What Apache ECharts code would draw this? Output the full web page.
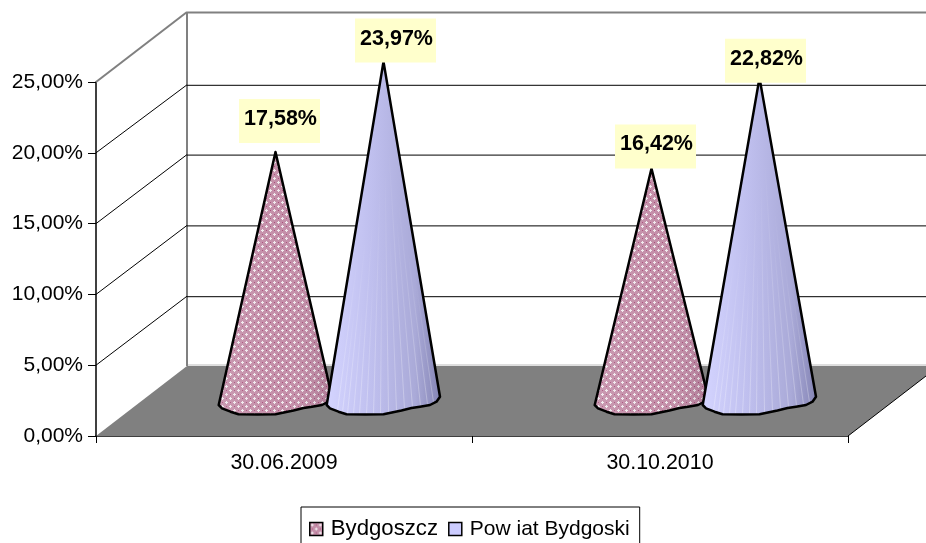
<!DOCTYPE html>
<html>
<head>
<meta charset="utf-8">
<style>html,body{margin:0;padding:0;background:#fff;overflow:hidden}#c{width:926px;height:543px}</style>
<script src="https://cdn.jsdelivr.net/npm/echarts@6/dist/echarts.min.js"></script>
</head>
<body>
<div id="c"></div>
<script>
const categories = ['30.06.2009', '30.10.2010'];
const seriesNames = ['Bydgoszcz', 'Pow iat Bydgoski'];
const bydgoszcz = [17.58, 16.42];
const powiat = [23.97, 22.82];
const yTicks = [0, 5, 10, 15, 20, 25];

const FONT = '"Liberation Sans", Arial, sans-serif';
const DEPTH_X = 91, DEPTH_Y = 70, CONE_SHIFT = 54;
const wallNudge = [0, 1, 1, 1, 2, 0];
// label box offset from the cone tip, [series][category] -> [dx, bottom dy]
const labelNudge = [[[4, -9], [4, 0]], [[12, 1], [6, 5]]];
// outline of the rough faceted cone base, relative to its centre
const baseProfile = [[-56.8,4],[-53.5,7.3],[-45,10.7],[-37,13.3],[-18,13.6],[0,13.3],[18,9.5],[28,7],[36.5,5.7],[46.5,4],[53,0.7],[56.5,-4.3]];
// facet seams on the blue cones: position across the base, and how far up they reach
const seams = [[-46,0.45],[-41,0.3],[-36,0.5],[-30,0.3],[-24,0.55],[-17,0.4],[-10,0.65],[-3,0.45],[5,0.7],[13,0.5],[21,0.75],[29,0.55],[37,0.6],[44,0.45],[50,0.35]];

function profileY(x) {
  for (let i = 1; i < baseProfile.length; i++) {
    const a = baseProfile[i - 1], b = baseProfile[i];
    if (x <= b[0]) return a[1] + (b[1] - a[1]) * (x - a[0]) / (b[0] - a[0]);
  }
  return baseProfile[baseProfile.length - 1][1];
}

function makeTile() {
  const c = document.createElement('canvas');
  c.width = 8; c.height = 8;
  const g = c.getContext('2d');
  g.fillStyle = '#c48fa9'; g.fillRect(0, 0, 8, 8);
  const plus = (x, y) => {
    g.fillStyle = '#f1eaee';
    g.fillRect(x - 1, y, 3, 1); g.fillRect(x, y - 1, 1, 3);
  };
  plus(2, 2); plus(6, 6);
  g.fillStyle = '#aa4f7c';
  g.fillRect(6, 2, 1, 1); g.fillRect(2, 6, 1, 1);
  return c;
}
const pinkFill = { image: makeTile(), repeat: 'repeat' };
const blueFill = { type: 'linear', x: 0, y: 0, x2: 1, y2: 0, colorStops: [
  { offset: 0, color: '#d4d4ff' }, { offset: 0.4, color: '#bfbfee' },
  { offset: 0.78, color: '#aaaad8' }, { offset: 1, color: '#8585b5' } ] };
const pinkShade = { type: 'linear', x: 0, y: 0, x2: 1, y2: 0, colorStops: [
  { offset: 0, color: 'rgba(255,255,255,0.1)' }, { offset: 0.55, color: 'rgba(255,255,255,0)' },
  { offset: 1, color: 'rgba(40,0,30,0.16)' } ] };

function fmt(v) { return v.toFixed(2).replace('.', ',') + '%'; }

function wallItem(params, api) {
  const cs = params.coordSys;
  const v = api.value(0);
  const i = params.dataIndex;
  const y = api.coord([0, v])[1];
  const x0 = cs.x, x1 = cs.x + cs.width;
  const top = i === yTicks.length - 1;
  const col = top ? '#808080' : '#000';
  const lw = top ? 2 : 1;
  const by = y - DEPTH_Y + wallNudge[i];
  const kids = [];
  if (i === 0) {
    const ty = api.coord([0, yTicks[yTicks.length - 1]])[1] - DEPTH_Y;
    kids.push({ type: 'polygon', shape: { points: [[x0, y], [x1, y], [x1 + DEPTH_X, by], [x0 + DEPTH_X, by]] },
      style: { fill: '#808080', stroke: null } });
    kids.push({ type: 'line', shape: { x1: x0 + DEPTH_X, y1: by - 1, x2: x1 + DEPTH_X, y2: by - 1 }, style: { stroke: '#bdbdbd', lineWidth: 1 } });
    kids.push({ type: 'line', shape: { x1: x0 + DEPTH_X, y1: ty, x2: x0 + DEPTH_X, y2: by }, style: { stroke: '#808080', lineWidth: 2 } });
    kids.push({ type: 'line', shape: { x1: x1, y1: y, x2: x1 + DEPTH_X, y2: by }, style: { stroke: '#000', lineWidth: 1 } });
  } else {
    kids.push({ type: 'line', shape: { x1: x0, y1: y, x2: x0 + DEPTH_X, y2: by }, style: { stroke: col, lineWidth: lw } });
    kids.push({ type: 'line', shape: { x1: x0 + DEPTH_X, y1: by + 0.5, x2: x1 + DEPTH_X, y2: by + 0.5 }, style: { stroke: col, lineWidth: lw } });
  }
  return { type: 'group', children: kids };
}

function coneItem(seriesIdx) {
  return function (params, api) {
    const cat = api.value(0), v = api.value(1);
    const tip = api.coord([cat, v]);
    const zero = api.coord([cat, 0]);
    const cx = tip[0] + DEPTH_X / 2 + (seriesIdx === 0 ? -CONE_SHIFT : CONE_SHIFT);
    const tipY = tip[1] - DEPTH_Y / 2;
    const baseY = zero[1] - DEPTH_Y / 2;
    const outline = [[cx, tipY]].concat(baseProfile.map(p => [cx + p[0], baseY + p[1]]));
    const kids = [];
    kids.push({ type: 'polygon', shape: { points: outline },
      style: { fill: seriesIdx === 0 ? pinkFill : blueFill, stroke: null } });
    if (seriesIdx === 0) {
      kids.push({ type: 'polygon', shape: { points: outline }, style: { fill: pinkShade, stroke: null } });
    } else {
      seams.forEach(s => {
        const f = s[1];
        const yBot = baseY + profileY(s[0]) - 1;
        const yEnd = yBot - (yBot - tipY) * f;
        const stroke = { type: 'linear', global: true, x: 0, y: yEnd, x2: 0, y2: yBot, colorStops: [
          { offset: 0, color: 'rgba(255,255,255,0)' }, { offset: 1, color: 'rgba(255,255,255,0.3)' } ] };
        kids.push({ type: 'line', shape: { x1: cx + s[0] * (1 - f), y1: yEnd, x2: cx + s[0], y2: yBot },
          style: { stroke: stroke, lineWidth: 1 } });
      });
    }
    kids.push({ type: 'polygon', shape: { points: outline },
      style: { fill: 'none', stroke: '#000', lineWidth: 2.5, lineJoin: 'round' } });
    const n = labelNudge[seriesIdx][cat];
    const bw = 81, bh = 44;
    const lx = cx + n[0] - bw / 2, ly = tipY + n[1] - bh;
    kids.push({ type: 'rect', shape: { x: lx, y: ly, width: bw, height: bh },
      style: { fill: '#ffffcc', stroke: null }, z2: 50 });
    kids.push({ type: 'text', x: lx + bw / 2 + 1, y: ly + 20, z2: 51,
      style: { text: fmt(v), font: 'bold 21.5px ' + FONT, fill: '#000', align: 'center', verticalAlign: 'middle' } });
    return { type: 'group', children: kids };
  };
}

const chart = echarts.init(document.getElementById('c'), null, { renderer: 'canvas' });
chart.setOption({
  animation: false,
  backgroundColor: '#fff',
  tooltip: { show: false },
  grid: { left: 96, right: 78, top: 82, bottom: 107, containLabel: false },
  xAxis: {
    type: 'category', data: categories, boundaryGap: true,
    axisLine: { show: true, lineStyle: { color: '#000', width: 1.5 } },
    axisTick: { show: true, length: 7, alignWithLabel: false, lineStyle: { color: '#000', width: 1 } },
    axisLabel: { show: true, margin: 17, color: '#000', fontFamily: FONT, fontSize: 21.4 },
    splitLine: { show: false }
  },
  yAxis: {
    type: 'value', min: 0, max: 25, interval: 5,
    axisLine: { show: true, lineStyle: { color: '#000', width: 1.5 } },
    axisTick: { show: true, length: 8, lineStyle: { color: '#000', width: 1 } },
    axisLabel: { show: true, margin: 13, color: '#000', fontFamily: FONT, fontSize: 21, formatter: v => fmt(v) },
    splitLine: { show: false }
  },
  legend: {
    show: true, orient: 'horizontal', left: 301, top: 507,
    padding: [11, 10, 16, 8], itemGap: 10, itemWidth: 13, itemHeight: 13,
    borderColor: '#000', borderWidth: 1, backgroundColor: '#fff',
    textStyle: { color: '#000', fontFamily: FONT, fontSize: 21, padding: [0, 0, 0, 3] },
    data: [
      { name: seriesNames[0], icon: 'rect', textStyle: { fontSize: 22.2 }, itemStyle: { color: pinkFill, borderColor: '#000', borderWidth: 1.5 } },
      { name: seriesNames[1], icon: 'rect', itemStyle: { color: '#ccccff', borderColor: '#000', borderWidth: 1.5 } }
    ]
  },
  series: [
    { type: 'custom', name: 'walls', silent: true, clip: false, z: 1, renderItem: wallItem,
      encode: { y: 0 }, coordinateSystem: 'cartesian2d', data: yTicks.map(v => [v]) },
    { type: 'custom', name: seriesNames[0], clip: false, z: 2, renderItem: coneItem(0),
      encode: { x: 0, y: 1 }, itemStyle: { color: '#c47a9c' }, data: bydgoszcz.map((v, i) => [i, v]) },
    { type: 'custom', name: seriesNames[1], clip: false, z: 3, renderItem: coneItem(1),
      encode: { x: 0, y: 1 }, itemStyle: { color: '#ccccff' }, data: powiat.map((v, i) => [i, v]) }
  ]
});
</script>
</body>
</html>
